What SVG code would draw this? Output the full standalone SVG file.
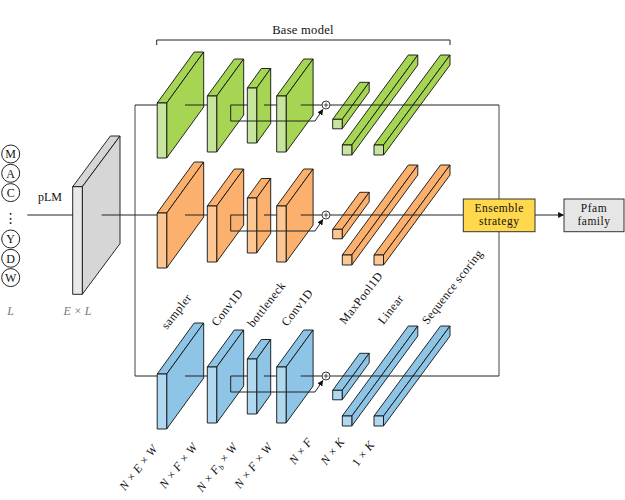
<svg xmlns="http://www.w3.org/2000/svg" width="625" height="500" viewBox="0 0 625 500">
<defs>
<style>
text{font-family:"Liberation Serif","DejaVu Serif",serif;fill:#111}
.blk polygon,.blk rect{stroke:#111;stroke-width:0.9;stroke-linejoin:round}
.green .fr{fill:#c7e59f}.green .sd{fill:#a6d453}
.orange .fr{fill:#fdc794}.orange .sd{fill:#fbb16d}
.blue .fr{fill:#b0d8ef}.blue .sd{fill:#8ec5e6}
.gray .fr{fill:#e9e9e9}.gray .sd{fill:#d6d6d6}
.ln{fill:none;stroke:#222;stroke-width:1}
.lbl{font-size:12px;letter-spacing:0.4px}
.dim{font-size:12px;fill:#777;font-style:italic;letter-spacing:0.3px}
.dim tspan.op{font-style:normal}
.seq circle{fill:#fff;stroke:#222;stroke-width:1}
.seq text{font-size:12px;text-anchor:middle}
.box{stroke:#333;stroke-width:1}
.btxt{font-size:11.5px;text-anchor:middle;letter-spacing:0.5px}
.sum circle{fill:#fff;stroke:#222;stroke-width:0.9}
.sum path{stroke:#222;stroke-width:0.8}
</style>
<marker id="ah" viewBox="0 0 10 10" refX="9" refY="5" markerWidth="6" markerHeight="6" orient="auto" markerUnits="userSpaceOnUse">
<path d="M0,0 L10,5 L0,10 z" fill="#111"/>
</marker>
</defs>
<rect width="625" height="500" fill="#fff"/>

<!-- input sequence -->
<g id="sequence" class="seq">
<circle cx="10.7" cy="154" r="9"/><text x="10.7" y="158.2">M</text>
<circle cx="10.7" cy="173.3" r="9"/><text x="10.7" y="177.5">A</text>
<circle cx="10.7" cy="192.6" r="9"/><text x="10.7" y="196.8">C</text>
<text x="10.7" y="223" style="font-family:'DejaVu Sans',sans-serif;font-size:14px">⋮</text>
<circle cx="10.7" cy="239" r="9"/><text x="10.7" y="243.2">Y</text>
<circle cx="10.7" cy="258.3" r="9"/><text x="10.7" y="262.5">D</text>
<circle cx="10.7" cy="277.6" r="9"/><text x="10.7" y="281.8">W</text>
</g>
<text x="10.7" y="315" class="dim" text-anchor="middle">L</text>

<!-- pLM embedding -->
<g id="plm" class="blk gray">
<polygon class="sd" points="72.7,186.7 110.4,136 120,136 82.3,186.7"/>
<polygon class="sd" points="82.3,186.7 120,136 120,243.6 82.3,294.3"/>
<rect class="fr" x="72.7" y="186.7" width="9.6" height="107.6"/>
</g>
<text x="50" y="201" style="font-size:12px" text-anchor="middle">pLM</text>
<text x="77.7" y="315" class="dim" text-anchor="middle">E <tspan class="op">×</tspan> L</text>

<!-- base model bracket -->
<g id="base-model">
<path class="ln" d="M156.7,45 V40 H450 V45" stroke="#444"/>
<text x="303" y="34" style="font-size:12.5px;letter-spacing:0.3px" text-anchor="middle">Base model</text>
</g>

<!-- rows -->
<g id="row-green" class="green">
<g id="green-sampler" class="blk"><polygon class="sd" points="157.2,103 194.2,52 203.7,52 166.7,103"/><polygon class="sd" points="166.7,103 203.7,52 203.7,107 166.7,158"/><rect class="fr" x="157.2" y="103" width="9.5" height="55"/></g>
<g id="green-conv1" class="blk"><polygon class="sd" points="207.3,96 234.3,59 243.7,59 216.7,96"/><polygon class="sd" points="216.7,96 243.7,59 243.7,115 216.7,152"/><rect class="fr" x="207.3" y="96" width="9.4" height="56"/></g>
<g id="green-bottleneck" class="blk"><polygon class="sd" points="247.3,88 261.3,68.5 270.7,68.5 256.7,88"/><polygon class="sd" points="256.7,88 270.7,68.5 270.7,123.5 256.7,143"/><rect class="fr" x="247.3" y="88" width="9.4" height="55"/></g>
<g id="green-conv2" class="blk"><polygon class="sd" points="276.7,96 303.7,59 313.1,59 286.1,96"/><polygon class="sd" points="286.1,96 313.1,59 313.1,115 286.1,152"/><rect class="fr" x="276.7" y="96" width="9.4" height="56"/></g>
<g id="green-maxpool" class="blk"><polygon class="sd" points="332.7,119.3 359.7,82.3 369.2,82.3 342.2,119.3"/><polygon class="sd" points="342.2,119.3 369.2,82.3 369.2,91.8 342.2,128.8"/><rect class="fr" x="332.7" y="119.3" width="9.5" height="9.5"/></g>
<g id="green-linear" class="blk"><polygon class="sd" points="342.3,145 408.3,55 417.8,55 351.8,145"/><polygon class="sd" points="351.8,145 417.8,55 417.8,65 351.8,155"/><rect class="fr" x="342.3" y="145" width="9.5" height="10"/></g>
<g id="green-scoring" class="blk"><polygon class="sd" points="374,145 440.5,55 450,55 383.5,145"/><polygon class="sd" points="383.5,145 450,55 450,65 383.5,155"/><rect class="fr" x="374" y="145" width="9.5" height="10"/></g>
<g id="green-sum" class="sum"><circle cx="326" cy="105" r="4"/><path d="M323.7,105 H328.3 M326,102.7 V107.3"/></g>
</g>

<g id="row-orange" class="orange" transform="translate(0,110)">
<g id="orange-sampler" class="blk"><polygon class="sd" points="157.2,103 194.2,52 203.7,52 166.7,103"/><polygon class="sd" points="166.7,103 203.7,52 203.7,107 166.7,158"/><rect class="fr" x="157.2" y="103" width="9.5" height="55"/></g>
<g id="orange-conv1" class="blk"><polygon class="sd" points="207.3,96 234.3,59 243.7,59 216.7,96"/><polygon class="sd" points="216.7,96 243.7,59 243.7,115 216.7,152"/><rect class="fr" x="207.3" y="96" width="9.4" height="56"/></g>
<g id="orange-bottleneck" class="blk"><polygon class="sd" points="247.3,88 261.3,68.5 270.7,68.5 256.7,88"/><polygon class="sd" points="256.7,88 270.7,68.5 270.7,123.5 256.7,143"/><rect class="fr" x="247.3" y="88" width="9.4" height="55"/></g>
<g id="orange-conv2" class="blk"><polygon class="sd" points="276.7,96 303.7,59 313.1,59 286.1,96"/><polygon class="sd" points="286.1,96 313.1,59 313.1,115 286.1,152"/><rect class="fr" x="276.7" y="96" width="9.4" height="56"/></g>
<g id="orange-maxpool" class="blk"><polygon class="sd" points="332.7,119.3 359.7,82.3 369.2,82.3 342.2,119.3"/><polygon class="sd" points="342.2,119.3 369.2,82.3 369.2,91.8 342.2,128.8"/><rect class="fr" x="332.7" y="119.3" width="9.5" height="9.5"/></g>
<g id="orange-linear" class="blk"><polygon class="sd" points="342.3,145 408.3,55 417.8,55 351.8,145"/><polygon class="sd" points="351.8,145 417.8,55 417.8,65 351.8,155"/><rect class="fr" x="342.3" y="145" width="9.5" height="10"/></g>
<g id="orange-scoring" class="blk"><polygon class="sd" points="374,145 440.5,55 450,55 383.5,145"/><polygon class="sd" points="383.5,145 450,55 450,65 383.5,155"/><rect class="fr" x="374" y="145" width="9.5" height="10"/></g>
<g id="orange-sum" class="sum"><circle cx="326" cy="105" r="4"/><path d="M323.7,105 H328.3 M326,102.7 V107.3"/></g>
</g>

<g id="row-blue" class="blue" transform="translate(0,271)">
<g id="blue-sampler" class="blk"><polygon class="sd" points="157.2,103 194.2,52 203.7,52 166.7,103"/><polygon class="sd" points="166.7,103 203.7,52 203.7,107 166.7,158"/><rect class="fr" x="157.2" y="103" width="9.5" height="55"/></g>
<g id="blue-conv1" class="blk"><polygon class="sd" points="207.3,96 234.3,59 243.7,59 216.7,96"/><polygon class="sd" points="216.7,96 243.7,59 243.7,115 216.7,152"/><rect class="fr" x="207.3" y="96" width="9.4" height="56"/></g>
<g id="blue-bottleneck" class="blk"><polygon class="sd" points="247.3,88 261.3,68.5 270.7,68.5 256.7,88"/><polygon class="sd" points="256.7,88 270.7,68.5 270.7,123.5 256.7,143"/><rect class="fr" x="247.3" y="88" width="9.4" height="55"/></g>
<g id="blue-conv2" class="blk"><polygon class="sd" points="276.7,96 303.7,59 313.1,59 286.1,96"/><polygon class="sd" points="286.1,96 313.1,59 313.1,115 286.1,152"/><rect class="fr" x="276.7" y="96" width="9.4" height="56"/></g>
<g id="blue-maxpool" class="blk"><polygon class="sd" points="332.7,119.3 359.7,82.3 369.2,82.3 342.2,119.3"/><polygon class="sd" points="342.2,119.3 369.2,82.3 369.2,91.8 342.2,128.8"/><rect class="fr" x="332.7" y="119.3" width="9.5" height="9.5"/></g>
<g id="blue-linear" class="blk"><polygon class="sd" points="342.3,145 408.3,55 417.8,55 351.8,145"/><polygon class="sd" points="351.8,145 417.8,55 417.8,65 351.8,155"/><rect class="fr" x="342.3" y="145" width="9.5" height="10"/></g>
<g id="blue-scoring" class="blk"><polygon class="sd" points="374,145 440.5,55 450,55 383.5,145"/><polygon class="sd" points="383.5,145 450,55 450,65 383.5,155"/><rect class="fr" x="374" y="145" width="9.5" height="10"/></g>
<g id="blue-sum" class="sum"><circle cx="326" cy="105" r="4"/><path d="M323.7,105 H328.3 M326,102.7 V107.3"/></g>
</g>

<!-- connectors -->
<g id="connectors" class="ln">
<path d="M27.3,215 H72.7 M101.7,215 H135"/>
<path d="M135,105 V376" stroke="#444"/>
<path d="M499,105 V376" stroke="#444"/>
<path d="M135,105 H157.2 M185,105 H207.3 M230.7,105 H247.3 M264,105 H276.7 M300.7,105 H322 M330,105 H499"/>
<path d="M230.7,105 V121 H315 L322.8,109.5" marker-end="url(#ah)"/>
<path d="M135,215 H157.2 M185,215 H207.3 M230.7,215 H247.3 M264,215 H276.7 M300.7,215 H322 M330,215 H463"/>
<path d="M230.7,215 V231 H315 L322.8,219.5" marker-end="url(#ah)"/>
<path d="M135,376 H157.2 M185,376 H207.3 M230.7,376 H247.3 M264,376 H276.7 M300.7,376 H322 M330,376 H499"/>
<path d="M230.7,376 V392 H315 L322.8,380.5" marker-end="url(#ah)"/>
<path d="M535,215 H563.5" marker-end="url(#ah)"/>
</g>

<g id="ensemble">
<rect class="box" x="463.3" y="199" width="71.7" height="32.7" fill="#ffd84e"/>
<text class="btxt" x="499.2" y="212">Ensemble</text>
<text class="btxt" x="499.2" y="224.5">strategy</text>
</g>
<g id="pfam">
<rect class="box" x="564" y="199" width="60" height="32.7" fill="#e6e6e6"/>
<text class="btxt" x="594" y="212">Pfam</text>
<text class="btxt" x="594" y="224.5">family</text>
</g>

<!-- layer labels -->
<g id="layer-labels" class="lbl">
<text transform="translate(167,330) rotate(-52)">sampler</text>
<text transform="translate(217,327) rotate(-52)">Conv1D</text>
<text transform="translate(253,328) rotate(-52)">bottleneck</text>
<text transform="translate(287,327) rotate(-52)">Conv1D</text>
<text transform="translate(345,325) rotate(-52)">MaxPool1D</text>
<text transform="translate(383.5,325) rotate(-52)">Linear</text>
<text transform="translate(427.5,325) rotate(-52)">Sequence scoring</text>
</g>

<!-- dimension labels -->
<g id="dim-labels" class="dim" text-anchor="end" xml:space="preserve">
<text transform="translate(158,449) rotate(-52)">N <tspan class="op">×</tspan> E <tspan class="op">×</tspan> W</text>
<text transform="translate(198,447) rotate(-52)">N <tspan class="op">×</tspan> F <tspan class="op">×</tspan> W</text>
<text transform="translate(238,447) rotate(-52)">N <tspan class="op">×</tspan> F<tspan font-size="8" dy="2">b</tspan><tspan dy="-2"> </tspan><tspan class="op">×</tspan> W</text>
<text transform="translate(273,447) rotate(-52)">N <tspan class="op">×</tspan> F <tspan class="op">×</tspan> W</text>
<text transform="translate(313,442) rotate(-52)">N <tspan class="op">×</tspan> F</text>
<text transform="translate(345,442) rotate(-52)">N <tspan class="op">×</tspan> K</text>
<text transform="translate(375,445) rotate(-52)"><tspan class="op">1</tspan> <tspan class="op">×</tspan> K</text>
</g>
</svg>
